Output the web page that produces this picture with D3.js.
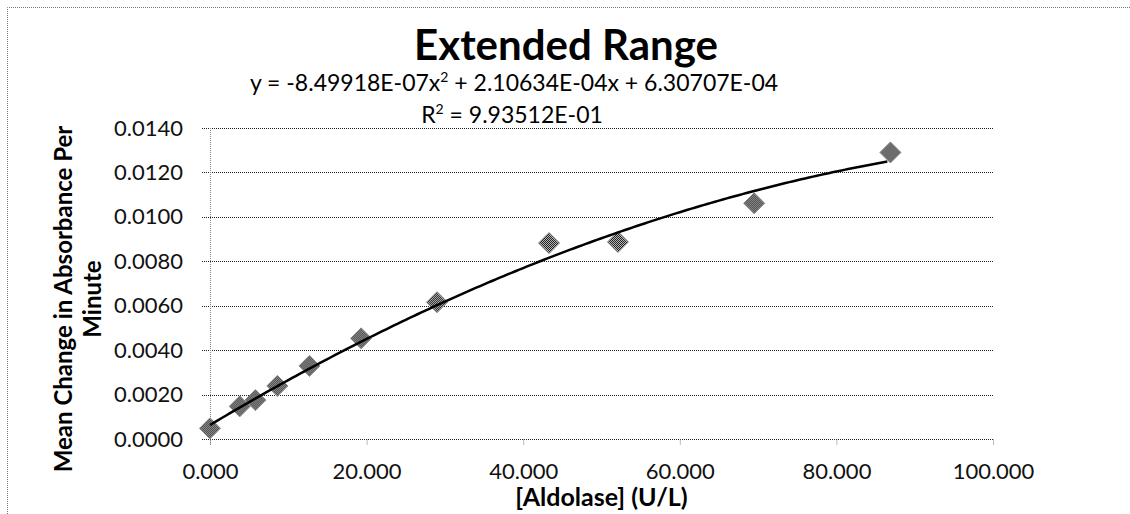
<!DOCTYPE html>
<html>
<head>
<meta charset="utf-8">
<script src="https://cdn.jsdelivr.net/npm/d3@7"></script>
<style>
  body { margin: 0; background: #fff; }
  svg { display: block; font-family: Lato, "Open Sans", sans-serif; }
</style>
</head>
<body>
<div id="chart"></div>
<script>
// Aldolase concentration (U/L) and mean change in absorbance per minute
const aldolase = [0, 3.8, 5.8, 8.6, 12.7, 19.3, 29.0, 43.3, 52.1, 69.5, 86.9];
const meanChange = [0.00048, 0.00147, 0.00175, 0.00239, 0.00329, 0.00453, 0.00616, 0.00882, 0.00887, 0.01061, 0.0129];

// polynomial trendline coefficients (from the chart label)
const trendCoef = [6.30707e-4, 2.10634e-4, -8.49918e-7];

const xTicks = [0, 20, 40, 60, 80, 100];
const yTicks = [0, 0.002, 0.004, 0.006, 0.008, 0.010, 0.012, 0.014];

const width = 1130, height = 514;

const svg = d3.select("#chart").append("svg")
    .attr("width", width)
    .attr("height", height);

// dithered fill for the markers
const defs = svg.append("defs");
const pat = defs.append("pattern")
    .attr("id", "checker")
    .attr("width", 2).attr("height", 2)
    .attr("patternUnits", "userSpaceOnUse");
pat.append("rect").attr("width", 2).attr("height", 2).attr("fill", "#c8c8c8");
pat.append("rect").attr("width", 1).attr("height", 1).attr("fill", "#111");
pat.append("rect").attr("x", 1).attr("y", 1).attr("width", 1).attr("height", 1).attr("fill", "#111");

// chart border (only top and left fall inside the picture)
svg.append("path")
    .attr("d", `M7.5,${height} V7.5 H${width}`)
    .attr("fill", "none")
    .attr("stroke", "#777")
    .attr("stroke-dasharray", "1,1");

const x = d3.scaleLinear().domain([0, 100]).range([210, 993]);
const y = d3.scaleLinear().domain([0, 0.014]).range([439, 128]);

// horizontal gridlines
svg.append("g")
    .selectAll("line")
    .data(yTicks)
    .join("line")
    .attr("x1", x(0) - 8).attr("x2", x(100))
    .attr("y1", d => Math.round(y(d)) + 0.5)
    .attr("y2", d => Math.round(y(d)) + 0.5)
    .attr("stroke", "#222")
    .attr("stroke-dasharray", "1,1");

// vertical axis line
svg.append("line")
    .attr("x1", x(0) + 0.5).attr("x2", x(0) + 0.5)
    .attr("y1", y(0.014)).attr("y2", y(0) + 7)
    .attr("stroke", "#888")
    .attr("stroke-dasharray", "1,1");

// y axis labels
const yAxis = svg.append("g")
    .attr("transform", `translate(${x(0) - 24},0)`)
    .call(d3.axisLeft(y).tickValues(yTicks).tickFormat(d3.format(".4f")).tickSize(0));
yAxis.select(".domain").remove();
yAxis.selectAll("text")
    .attr("fill", "#111")
    .style("font-size", "22px")
    .style("font-family", "Lato, sans-serif");

// x axis ticks and labels
const xAxis = svg.append("g")
    .attr("transform", `translate(0,${y(0) + 0.5})`)
    .call(d3.axisBottom(x).tickValues(xTicks).tickFormat(d3.format(".3f")).tickSize(6).tickPadding(18));
xAxis.select(".domain").remove();
xAxis.selectAll("line").attr("stroke", "#777").attr("stroke-dasharray", "1,1");
xAxis.selectAll("text")
    .attr("fill", "#111")
    .style("font-size", "22px")
    .style("font-family", "Lato, sans-serif");

// data markers
const points = aldolase.map((v, i) => ({ x: v, y: meanChange[i] }));
svg.append("g")
    .selectAll("path")
    .data(points)
    .join("path")
    .attr("transform", d => `translate(${x(d.x)},${y(d.y)})`)
    .attr("d", "M0,-10.5 L10.5,0 L0,10.5 L-10.5,0 Z")
    .attr("fill", "url(#checker)")
    .attr("stroke", "#888")
    .attr("stroke-width", 1);

// trendline
const trendX = d3.range(0, d3.max(aldolase) + 0.01, 0.5);
const line = d3.line()
    .x(d => x(d))
    .y(d => y(trendCoef[0] + trendCoef[1] * d + trendCoef[2] * d * d));
svg.append("path")
    .datum(trendX)
    .attr("d", line)
    .attr("fill", "none")
    .attr("stroke", "#000")
    .attr("stroke-width", 2.5);

// title and trendline label
svg.append("text")
    .attr("x", 566).attr("y", 60)
    .attr("text-anchor", "middle")
    .style("font-size", "42px")
    .style("font-weight", "bold")
    .text("Extended Range");

const eq = svg.append("text")
    .attr("x", 514).attr("y", 91)
    .attr("text-anchor", "middle")
    .style("font-size", "23px");
eq.append("tspan").text("y = -8.49918E-07x");
eq.append("tspan").attr("dy", -9).style("font-size", "14px").text("2");
eq.append("tspan").attr("dy", 9).text(" + 2.10634E-04x + 6.30707E-04");

const r2 = svg.append("text")
    .attr("x", 512).attr("y", 123)
    .attr("text-anchor", "middle")
    .style("font-size", "23px");
r2.append("tspan").text("R");
r2.append("tspan").attr("dy", -9).style("font-size", "14px").text("2");
r2.append("tspan").attr("dy", 9).text(" = 9.93512E-01");

// axis titles
svg.append("text")
    .attr("x", x(50)).attr("y", 506)
    .attr("text-anchor", "middle")
    .style("font-size", "25px")
    .style("font-weight", "bold")
    .text("[Aldolase] (U/L)");

const yTitle = svg.append("text")
    .attr("transform", "translate(72,299) rotate(-90)")
    .attr("text-anchor", "middle")
    .style("font-size", "24px")
    .style("font-weight", "bold");
yTitle.append("tspan").attr("x", 0).attr("y", 0).text("Mean Change in Absorbance Per");
yTitle.append("tspan").attr("x", 0).attr("y", 29).text("Minute");
</script>
</body>
</html>
